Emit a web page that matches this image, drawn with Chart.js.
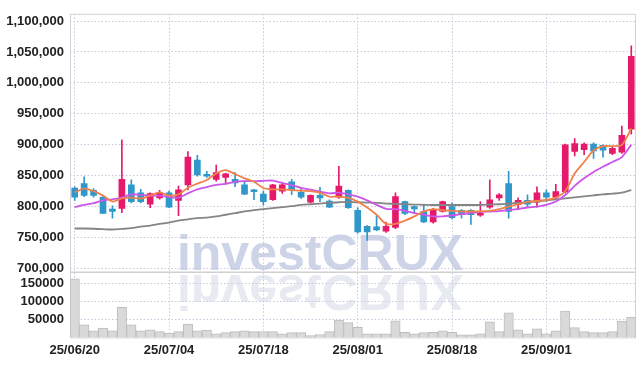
<!DOCTYPE html>
<html>
<head>
<meta charset="utf-8">
<script src="https://cdn.jsdelivr.net/npm/chart.js@4.4.1/dist/chart.umd.min.js"></script>
<style>
  html, body { margin: 0; padding: 0; background: #fff; }
</style>
</head>
<body>
<canvas id="chart" width="644" height="366"></canvas>
<script>
// trading days (YY/MM/DD)
const dates = [
  '25/06/20','25/06/23','25/06/24','25/06/25','25/06/26','25/06/27','25/06/30','25/07/01','25/07/02','25/07/03',
  '25/07/04','25/07/07','25/07/08','25/07/09','25/07/10','25/07/11','25/07/14','25/07/15','25/07/16','25/07/17',
  '25/07/18','25/07/21','25/07/22','25/07/23','25/07/24','25/07/25','25/07/28','25/07/29','25/07/30','25/07/31',
  '25/08/01','25/08/04','25/08/05','25/08/06','25/08/07','25/08/08','25/08/11','25/08/12','25/08/13','25/08/14',
  '25/08/18','25/08/19','25/08/20','25/08/21','25/08/22','25/08/25','25/08/26','25/08/27','25/08/28','25/08/29',
  '25/09/01','25/09/02','25/09/03','25/09/04','25/09/05','25/09/08','25/09/09','25/09/10','25/09/11','25/09/12'
];

const open = [
  830000, 837000, 826000, 815000, 796000, 797000, 835000, 822000, 804000, 814000,
  822000, 810000, 835000, 875000, 852000, 844000, 847000, 844000, 835000, 827000,
  820000, 811000, 825000, 840000, 823000, 807000, 818000, 809000, 815000, 826000,
  794000, 768000, 767000, 760000, 766000, 808000, 800000, 792000, 775000, 792000,
  800000, 794000, 794000, 786000, 799000, 814000, 837000, 803000, 810000, 807000,
  822000, 815000, 824000, 889000, 892000, 901000, 899000, 886000, 888000, 925000
];
const high = [
  832000, 848000, 829000, 816000, 801000, 908000, 843000, 828000, 822000, 826000,
  825000, 833000, 889000, 883000, 857000, 867000, 854000, 855000, 841000, 828000,
  825000, 836000, 837000, 844000, 829000, 819000, 831000, 811000, 865000, 827000,
  798000, 769000, 785000, 775000, 822000, 809000, 801000, 804000, 797000, 809000,
  806000, 795000, 795000, 808000, 843000, 821000, 857000, 814000, 819000, 832000,
  827000, 836000, 901000, 910000, 903000, 903000, 900000, 896000, 930000, 1060000
];
const low = [
  810000, 816000, 815000, 789000, 781000, 790000, 806000, 806000, 798000, 812000,
  798000, 785000, 827000, 849000, 847000, 841000, 837000, 832000, 819000, 811000,
  802000, 810000, 821000, 819000, 813000, 806000, 808000, 798000, 813000, 797000,
  757000, 745000, 761000, 758000, 764000, 787000, 789000, 774000, 773000, 791000,
  780000, 781000, 771000, 784000, 797000, 810000, 781000, 795000, 800000, 799000,
  808000, 811000, 822000, 882000, 884000, 878000, 880000, 884000, 886000, 917000
];
const close = [
  815000, 818000, 818000, 789000, 792000, 844000, 808000, 808000, 821000, 822000,
  799000, 827000, 880000, 851000, 849000, 855000, 853000, 838000, 820000, 824000,
  808000, 835000, 835000, 827000, 815000, 818000, 814000, 799000, 833000, 798000,
  759000, 759000, 762000, 768000, 816000, 789000, 796000, 775000, 795000, 808000,
  782000, 787000, 787000, 789000, 811000, 819000, 792000, 810000, 804000, 822000,
  815000, 824000, 900000, 902000, 901000, 890000, 891000, 894000, 915000, 1043000
];
const volume = [
  162000, 35000, 18000, 26000, 18000, 83000, 35000, 18000, 21000, 16000,
  12000, 16000, 37000, 18000, 20000, 10000, 13000, 16000, 18000, 16000,
  16000, 16000, 10000, 13000, 13000, 5000, 8000, 16000, 48000, 41000,
  28000, 10000, 10000, 10000, 46000, 14000, 10000, 13000, 14000, 18000,
  14000, 7000, 7000, 10000, 43000, 16000, 68000, 21000, 10000, 24000,
  10000, 18000, 73000, 27000, 16000, 13000, 13000, 16000, 45000, 56000
];

// moving averages as shown
const ma5 = [
  823000, 829000, 825000, 817600, 808000, 813300, 814400, 813000, 817600, 822800,
  817600, 819700, 830300, 837000, 843000, 853500, 859000, 852500, 845600, 840000,
  830000, 827700, 827700, 826700, 825600, 825000, 822400, 816000, 816000, 814000,
  808000, 798400, 786700, 772000, 772000, 777000, 784000, 792000, 795700, 794000,
  793000, 792000, 792000, 792000, 793000, 795700, 800000, 803700, 807500, 809000,
  810700, 814400, 825000, 853400, 872000, 890700, 897600, 897600, 899700, 926400
];
const ma20 = [
  799000, 802700, 805300, 810000, 811700, 814400, 819700, 818700, 817600, 817600,
  815500, 814400, 821300, 827700, 831500, 835100, 836700, 840000, 841000, 841000,
  841500, 842000, 838100, 834700, 830300, 827200, 824000, 821300, 822400, 819700,
  816000, 810000, 802700, 796300, 795700, 793000, 789300, 786700, 784000, 784000,
  785600, 787800, 789300, 791000, 791800, 792500, 794100, 796300, 798400, 800000,
  802700, 808000, 818700, 833500, 845600, 856000, 864300, 872000, 880000, 899700
];
const ma60 = [
  764400, 764400, 764000, 763300, 762800, 763800, 764900, 767600, 769100, 771800,
  774000, 777000, 779200, 781300, 782000, 784000, 786700, 789300, 792000, 794100,
  795700, 797300, 798900, 800500, 802700, 803700, 804800, 805900, 806900, 807500,
  806900, 806400, 805900, 804800, 804300, 803700, 803200, 802700, 802500, 802500,
  802500, 802500, 802500, 802500, 803200, 803700, 804800, 805900, 806900, 808500,
  810100, 811700, 813300, 814900, 816500, 818100, 819700, 820800, 822400, 826700
];

const priceTicks = [700000, 750000, 800000, 850000, 900000, 950000, 1000000, 1050000, 1100000];
const volumeTicks = [50000, 100000, 150000];

const UP = '#e61a6a';
const DOWN = '#2f97c9';
const GRID = '#c6cadc';
const FONT = "'Liberation Sans', Arial, sans-serif";
const tickFont = { family: FONT, size: 13, weight: 'bold' };

const candleColor = c => close[c.dataIndex] >= open[c.dataIndex] ? UP : DOWN;

// watermark + frame
const decor = {
  id: 'decor',
  beforeDraw(chart) {
    const ctx = chart.ctx;
    ctx.save();
    ctx.font = "bold 50px 'Liberation Sans', Arial, sans-serif";
    ctx.textBaseline = 'alphabetic';
    ctx.textAlign = 'center';
    ctx.fillStyle = 'rgb(206,212,231)';
    ctx.fillText('investCRUX', 320, 270);
    ctx.translate(0, 545);
    ctx.scale(1, -1);
    ctx.fillStyle = 'rgb(232,234,241)';
    ctx.fillText('investCRUX', 320, 270);
    ctx.restore();
  },
  beforeDatasetsDraw(chart) {
    const {ctx, chartArea: a, scales} = chart;
    ctx.save();
    ctx.strokeStyle = '#d2d2d8';
    ctx.lineWidth = 1;
    ctx.strokeRect(a.left + 0.5, a.top + 0.5, a.right - a.left - 1, a.bottom - a.top);
    ctx.strokeStyle = '#d0d0d0';
    ctx.lineWidth = 1.5;
    ctx.beginPath();
    ctx.moveTo(a.left, scales.yv.top);
    ctx.lineTo(a.right, scales.yv.top);
    ctx.stroke();
    ctx.restore();
  }
};

new Chart(document.getElementById('chart'), {
  type: 'bar',
  data: {
    labels: dates,
    datasets: [
      { type: 'line', data: ma5, borderColor: '#f0814a', borderWidth: 1.8, pointRadius: 0, tension: 0.3, yAxisID: 'y', order: 0 },
      { type: 'line', data: ma20, borderColor: '#cc56e8', borderWidth: 1.8, pointRadius: 0, tension: 0.3, yAxisID: 'y', order: 0 },
      { type: 'line', data: ma60, borderColor: '#858585', borderWidth: 1.8, pointRadius: 0, tension: 0.3, yAxisID: 'y', order: 0 },
      { data: open.map((o, i) => [o, close[i]]), backgroundColor: candleColor, barThickness: 6, grouped: false, yAxisID: 'y', order: 1 },
      { data: low.map((l, i) => [l, high[i]]), backgroundColor: candleColor, barThickness: 1, grouped: false, yAxisID: 'y', order: 2 },
      { data: volume, backgroundColor: '#d9d9d9', borderColor: '#bdbdbd', borderWidth: 1,
        barPercentage: 1, categoryPercentage: 1, grouped: false, yAxisID: 'yv', order: 3 }
    ]
  },
  options: {
    responsive: false,
    animation: false,
    layout: { padding: { top: 9, right: 8, bottom: 3, left: 0 } },
    plugins: { legend: { display: false }, tooltip: { enabled: false } },
    scales: {
      x: {
        offset: true,
        grid: { offset: false, drawTicks: false, color: c => c.index % 10 === 0 ? GRID : 'transparent' },
        border: { display: false, dash: [1.5, 2] },
        ticks: {
          autoSkip: false, maxRotation: 0, padding: 5,
          color: '#222', font: tickFont,
          callback: (v, i) => i % 10 === 0 ? dates[i] : ''
        }
      },
      yv: {
        position: 'left', stack: 'panes', stackWeight: 66,
        min: 0, max: 180000,
        afterBuildTicks: s => { s.ticks = volumeTicks.map(v => ({ value: v })); },
        afterFit: s => { s.width = 70; },
        grid: { color: GRID, drawTicks: false },
        border: { display: false, dash: [1.5, 2] },
        ticks: {
          autoSkip: false, padding: 6, color: '#222', font: tickFont,
          callback: v => String(v)
        }
      },
      y: {
        position: 'left', stack: 'panes', stackWeight: 262,
        min: 693600, max: 1111800,
        afterBuildTicks: s => { s.ticks = priceTicks.map(v => ({ value: v })); },
        afterFit: s => { s.width = 70; },
        grid: { color: GRID, drawTicks: false },
        border: { display: false, dash: [1.5, 2] },
        ticks: {
          autoSkip: false, padding: 6, color: '#222', font: tickFont,
          callback: v => v.toLocaleString('en-US')
        }
      }
    }
  },
  plugins: [decor]
});
</script>
</body>
</html>
